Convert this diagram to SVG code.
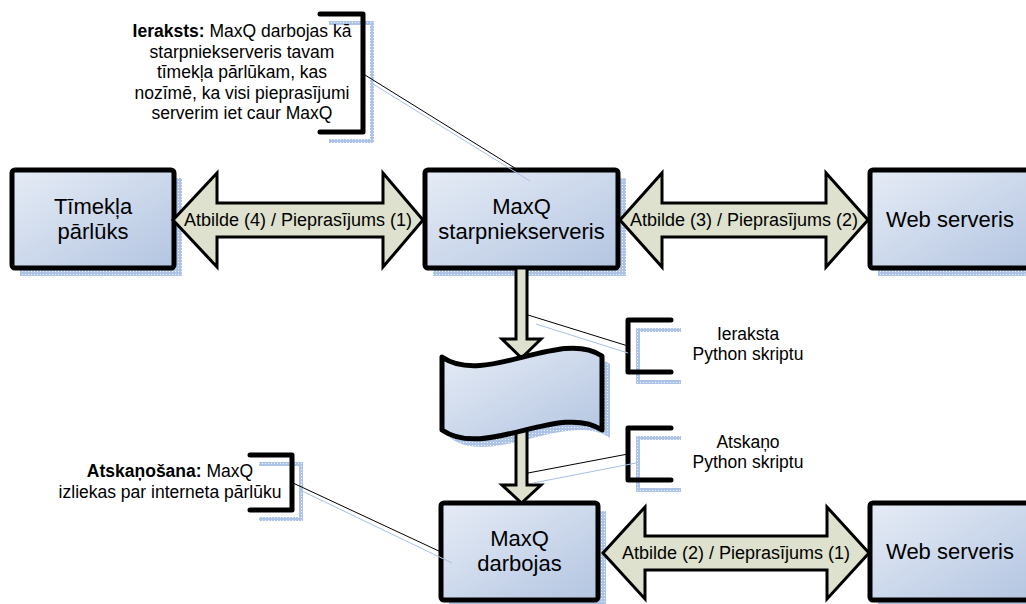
<svg xmlns="http://www.w3.org/2000/svg" width="1026" height="604" viewBox="0 0 1026 604">
<style>
.box{fill:url(#g);stroke:#000;stroke-width:5;stroke-linejoin:round}
.sh{fill:url(#dots)}
.shs{fill:none;stroke:url(#dots);stroke-width:4}
.arr{fill:#dee1cd;stroke:#000;stroke-width:3;stroke-linejoin:miter}
.br{fill:none;stroke:#000;stroke-width:5;stroke-linecap:round;stroke-linejoin:round}
.ln{stroke:#000;stroke-width:1;fill:none}
.lns{stroke:#a9c0e4;stroke-width:1;fill:none}
text{font-family:"Liberation Sans",Arial,sans-serif;fill:#000;text-anchor:middle}
.t22{font-size:22px}
.t18{font-size:18px}
.t17{font-size:17.5px}
.b{font-weight:bold}
</style>
<defs>
<linearGradient id="g" x1="0" y1="0" x2="1" y2="1">
<stop offset="0" stop-color="#e6ecf6"/>
<stop offset="1" stop-color="#b3c5e1"/>
</linearGradient>
<pattern id="dots" width="3" height="3" patternUnits="userSpaceOnUse">
<rect width="3" height="3" fill="#aec4e6"/>
<rect x="1" y="1" width="1" height="1" fill="#f2f6fc"/>
</pattern>
</defs>
<rect width="1026" height="604" fill="#fff"/>
<g id="shadows">
<rect class="sh" x="20" y="178" width="162" height="98"/>
<rect class="sh" x="433" y="178" width="193" height="98"/>
<rect class="sh" x="878" y="178" width="162" height="98"/>
<rect class="sh" x="449" y="511" width="157" height="97"/>
<rect class="sh" x="878" y="511" width="162" height="97"/>
<path class="sh" d="M450,365 C493,395 568,336 610,364 L610,438 C568,410 493,468 450,438 Z"/>
</g>
<g id="browser">
<rect class="box" x="12" y="170" width="162" height="98" rx="3"/>
<text class="t22" x="93" y="214">Tīmekļa</text>
<text class="t22" x="93" y="239">pārlūks</text>
</g>
<g id="proxy">
<rect class="box" x="425" y="170" width="193" height="98" rx="3"/>
<text class="t22" x="521.5" y="214">MaxQ</text>
<text class="t22" x="521.5" y="239">starpniekserveris</text>
</g>
<g id="webserver1">
<rect class="box" x="870" y="170" width="162" height="98" rx="3"/>
<text class="t22" x="950" y="227">Web serveris</text>
</g>
<g id="maxqrun">
<rect class="box" x="441" y="503" width="157" height="97" rx="3"/>
<text class="t22" x="519.5" y="546">MaxQ</text>
<text class="t22" x="519.5" y="571">darbojas</text>
</g>
<g id="webserver2">
<rect class="box" x="870" y="503" width="162" height="97" rx="3"/>
<text class="t22" x="950" y="559">Web serveris</text>
</g>
<g id="note-record">
<path class="shs" d="M329,23 H372 V141 H329"/>
<path class="br" d="M320,14 H363 V132 H320"/>
<text class="t17" x="242" y="37"><tspan class="b">Ieraksts:</tspan> MaxQ darbojas kā</text>
<text class="t17" x="242" y="57.5">starpniekserveris tavam</text>
<text class="t17" x="242" y="78">tīmekļa pārlūkam, kas</text>
<text class="t17" x="242" y="98.5">nozīmē, ka visi pieprasījumi</text>
<text class="t17" x="242" y="119">serverim iet caur MaxQ</text>
</g>
<g id="note-play">
<path class="shs" d="M259,464 H301 V519 H259"/>
<path class="br" d="M250,455 H292 V510 H250"/>
<text class="t17" x="170" y="477"><tspan class="b">Atskaņošana:</tspan> MaxQ</text>
<text class="t17" x="170" y="498">izliekas par interneta pārlūku</text>
</g>
<g id="note-script-rec">
<path class="shs" d="M681,330 H638 V382 H681"/>
<path class="br" d="M671,320 H628 V372 H671"/>
<text class="t17" x="748" y="340">Ieraksta</text>
<text class="t17" x="748" y="360">Python skriptu</text>
</g>
<g id="note-script-play">
<path class="shs" d="M681,438 H638 V490 H681"/>
<path class="br" d="M671,428 H628 V480 H671"/>
<text class="t17" x="748" y="448">Atskaņo</text>
<text class="t17" x="748" y="468">Python skriptu</text>
</g>
<g id="connectors">
<polygon class="arr" points="173,220 217,173 217,203 383,203 383,173 423,220 383,267 383,237 217,237 217,267"/>
<text class="t18" x="298" y="226">Atbilde (4) / Pieprasījums (1)</text>
<polygon class="arr" points="620,220 662,173 662,203 826,203 826,173 868,220 826,267 826,237 662,237 662,267"/>
<text class="t18" x="744" y="226">Atbilde (3) / Pieprasījums (2)</text>
<polygon class="arr" points="603,553 645,507 645,536 827,536 827,507 869,553 827,599 827,570 645,570 645,599"/>
<text class="t18" x="736" y="559">Atbilde (2) / Pieprasījums (1)</text>
<polygon class="arr" points="516,268 527,268 527,339 541,339 521.5,358 502,339 516,339"/>
<polygon class="arr" points="516,425 527,425 527,485 541,485 521.5,503 502,485 516,485"/>
<line class="lns" x1="373" y1="84" x2="530" y2="181"/>
<line class="ln" x1="365" y1="75" x2="518" y2="170"/>
<line class="lns" x1="536" y1="324" x2="628" y2="353"/>
<line class="ln" x1="528" y1="315" x2="628" y2="346"/>
<line class="lns" x1="533" y1="483" x2="636" y2="463"/>
<line class="ln" x1="528" y1="473" x2="628" y2="454"/>
<line class="lns" x1="300" y1="490" x2="452" y2="563"/>
<line class="ln" x1="293" y1="483" x2="441" y2="552"/>
</g>
<g id="script">
<path class="box" d="M442,357 C485,387 560,328 602,356 L602,430 C560,402 485,460 442,430 Z"/>
</g>
</svg>
